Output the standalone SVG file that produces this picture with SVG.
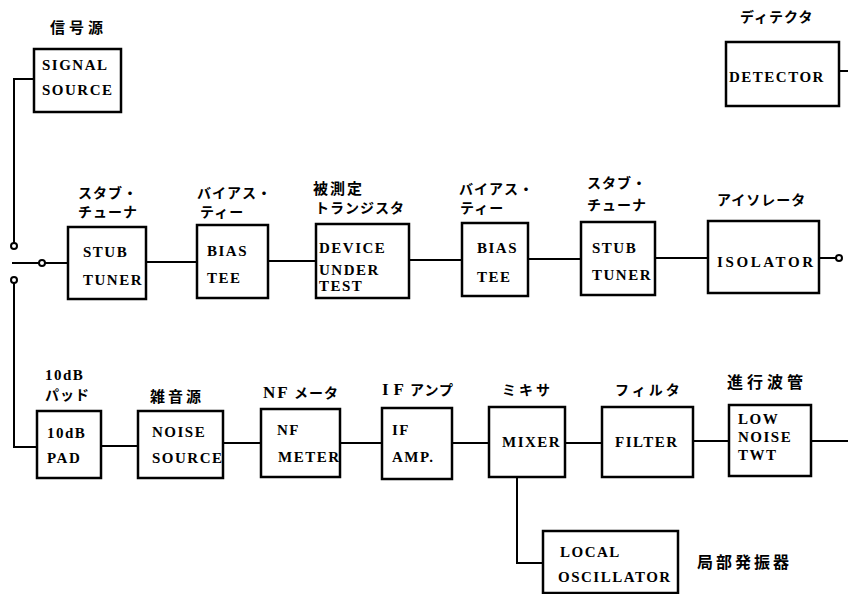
<svg xmlns="http://www.w3.org/2000/svg" width="848" height="594" viewBox="0 0 848 594">
<style>
.box{fill:#fff;stroke:#000;stroke-width:2.5}
.ln{fill:none;stroke:#000;stroke-width:2}
.term{fill:#fff;stroke:#000;stroke-width:2}
.t{font-family:"Liberation Serif",serif;font-weight:bold;font-size:15px;letter-spacing:1.5px;fill:#000}
.j{font-family:"Noto Sans CJK JP",sans-serif;font-weight:bold;font-size:14px;letter-spacing:1px;fill:#000}
.k{font-family:"Noto Sans CJK JP",sans-serif;font-weight:bold;font-size:15px;letter-spacing:4px;fill:#000}
</style>
<rect width="848" height="594" fill="#fff"/>
<g id="connectors">
<polyline class="ln" points="34,79 14,79 14,243"/>
<circle class="term" cx="14" cy="246" r="3"/>
<line class="ln" x1="12" y1="263" x2="39" y2="263"/>
<circle class="term" cx="42" cy="263" r="3"/>
<line class="ln" x1="45" y1="263" x2="68" y2="263"/>
<circle class="term" cx="14" cy="280" r="3"/>
<polyline class="ln" points="14,283 14,447 37,447"/>
<line class="ln" x1="146" y1="262" x2="197" y2="262"/>
<line class="ln" x1="268" y1="261" x2="316" y2="261"/>
<line class="ln" x1="409" y1="260" x2="462" y2="260"/>
<line class="ln" x1="528" y1="259" x2="581" y2="259"/>
<line class="ln" x1="655" y1="258" x2="708" y2="258"/>
<line class="ln" x1="819" y1="258" x2="836" y2="258"/>
<circle class="term" cx="839" cy="258" r="3"/>
<line class="ln" x1="839" y1="71" x2="848" y2="71"/>
<line class="ln" x1="101" y1="446" x2="138" y2="446"/>
<line class="ln" x1="223" y1="443" x2="261" y2="443"/>
<line class="ln" x1="340" y1="443" x2="382" y2="443"/>
<line class="ln" x1="452" y1="443" x2="489" y2="443"/>
<line class="ln" x1="565" y1="443" x2="602" y2="443"/>
<line class="ln" x1="693" y1="441" x2="729" y2="441"/>
<line class="ln" x1="811" y1="441" x2="848" y2="441"/>
<polyline class="ln" points="517,477 517,563 543,563"/>
</g>
<g id="signal-source">
<text class="k" x="50" y="33">信号源</text>
<rect class="box" x="34" y="49" width="87" height="63"/>
<text class="t" x="42" y="70">SIGNAL</text>
<text class="t" x="42" y="95">SOURCE</text>
</g>
<g id="detector">
<text class="j" x="740" y="22">ディテクタ</text>
<rect class="box" x="726" y="42" width="113" height="64"/>
<text class="t" x="729" y="82">DETECTOR</text>
</g>
<g id="stub-tuner-1">
<text class="j" x="78" y="198">スタブ・</text>
<text class="j" x="78" y="217">チューナ</text>
<rect class="box" x="68" y="227" width="78" height="72"/>
<text class="t" x="83" y="257">STUB</text>
<text class="t" x="83" y="285">TUNER</text>
</g>
<g id="bias-tee-1">
<text class="j" x="197" y="198">バイアス・</text>
<text class="j" x="200" y="217">ティー</text>
<rect class="box" x="197" y="225" width="71" height="73"/>
<text class="t" x="207" y="256">BIAS</text>
<text class="t" x="207" y="283">TEE</text>
</g>
<g id="dut">
<text class="k" x="313" y="194" style="letter-spacing:2px">被測定</text>
<text class="j" x="315" y="213">トランジスタ</text>
<rect class="box" x="316" y="224" width="93" height="74"/>
<text class="t" x="319" y="253">DEVICE</text>
<text class="t" x="319" y="275">UNDER</text>
<text class="t" x="319" y="291">TEST</text>
</g>
<g id="bias-tee-2">
<text class="j" x="459" y="194">バイアス・</text>
<text class="j" x="460" y="213">ティー</text>
<rect class="box" x="462" y="223" width="66" height="73"/>
<text class="t" x="477" y="253">BIAS</text>
<text class="t" x="477" y="282">TEE</text>
</g>
<g id="stub-tuner-2">
<text class="j" x="587" y="188">スタブ・</text>
<text class="j" x="587" y="210">チューナ</text>
<rect class="box" x="581" y="222" width="74" height="73"/>
<text class="t" x="592" y="253">STUB</text>
<text class="t" x="592" y="280">TUNER</text>
</g>
<g id="isolator">
<text class="j" x="717" y="205">アイソレータ</text>
<rect class="box" x="708" y="221" width="111" height="72"/>
<text class="t" x="717" y="267" style="letter-spacing:2.6px">ISOLATOR</text>
</g>
<g id="pad">
<text class="t" x="45" y="380">10dB</text>
<text class="j" x="45" y="400">パッド</text>
<rect class="box" x="37" y="411" width="64" height="67"/>
<text class="t" x="47" y="438">10dB</text>
<text class="t" x="47" y="463">PAD</text>
</g>
<g id="noise-source">
<text class="k" x="150" y="402" style="letter-spacing:3px">雑音源</text>
<rect class="box" x="138" y="411" width="85" height="67"/>
<text class="t" x="152" y="437">NOISE</text>
<text class="t" x="152" y="463">SOURCE</text>
</g>
<g id="nf-meter">
<text class="t" x="263" y="398" style="font-size:17px;letter-spacing:2px">NF</text><text class="j" x="294" y="398">メータ</text>
<rect class="box" x="261" y="409" width="79" height="68"/>
<text class="t" x="277" y="435">NF</text>
<text class="t" x="278" y="462">METER</text>
</g>
<g id="if-amp">
<text class="t" x="382" y="395" style="font-size:17px;letter-spacing:5px">IF</text><text class="j" x="410" y="395">アンプ</text>
<rect class="box" x="382" y="408" width="70" height="71"/>
<text class="t" x="392" y="435">IF</text>
<text class="t" x="392" y="462">AMP.</text>
</g>
<g id="mixer">
<text class="j" x="502" y="395" style="letter-spacing:3px">ミキサ</text>
<rect class="box" x="489" y="407" width="76" height="70"/>
<text class="t" x="502" y="447">MIXER</text>
</g>
<g id="filter">
<text class="j" x="615" y="395" style="letter-spacing:3px">フィルタ</text>
<rect class="box" x="602" y="407" width="91" height="70"/>
<text class="t" x="615" y="447">FILTER</text>
</g>
<g id="twt">
<text class="k" x="727" y="388" style="font-size:16px;letter-spacing:4px">進行波管</text>
<rect class="box" x="729" y="405" width="82" height="71"/>
<text class="t" x="738" y="424">LOW</text>
<text class="t" x="738" y="442">NOISE</text>
<text class="t" x="738" y="460">TWT</text>
</g>
<g id="local-oscillator">
<rect class="box" x="543" y="531" width="135" height="62"/>
<text class="t" x="560" y="557">LOCAL</text>
<text class="t" x="558" y="582">OSCILLATOR</text>
<text class="k" x="697" y="568" style="font-size:16px;letter-spacing:3px">局部発振器</text>
</g>
</svg>
